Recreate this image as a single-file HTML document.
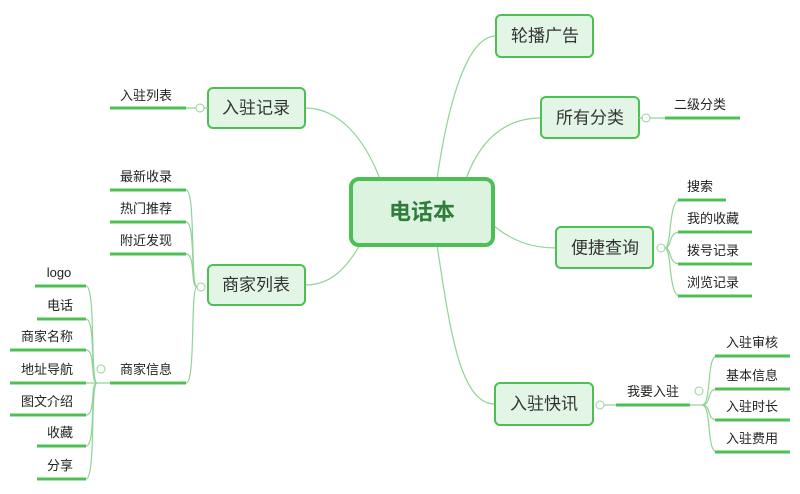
<!DOCTYPE html>
<html><head><meta charset="utf-8"><style>
body{margin:0;background:#fff;}
svg{display:block;font-family:"Liberation Sans","Noto Sans CJK SC",sans-serif;}
.box{fill:#e3f6e6;stroke:#4cc055;stroke-width:2;}
.t{font-size:17px;fill:#333;text-anchor:middle;dominant-baseline:central;}
.s{font-size:13px;fill:#222;text-anchor:middle;}
.u{stroke:#4cc055;stroke-width:3;fill:none;}
.c{stroke:#8fd497;stroke-width:1.2;fill:none;}
.k{fill:#fff;stroke:#9bcf9f;stroke-width:1;}
</style></head><body>
<svg width="800" height="494" viewBox="0 0 800 494">
<!-- main curves -->
<path class="c" d="M437 179 C450 90 470 36 496 36"/>
<path class="c" d="M466 179 C480 140 505 118 541 118"/>
<path class="c" d="M492 224 C510 240 530 248 556 248"/>
<path class="c" d="M437 245 C450 330 460 404 495 404"/>
<path class="c" d="M380 179 C365 140 340 108 305 108"/>
<path class="c" d="M360 245 C345 270 330 285 305 285"/>
<!-- central -->
<rect x="351" y="179" width="142" height="66" rx="8" fill="#dcf4df" stroke="#4cc055" stroke-width="4"/>
<text x="422" y="212" class="t" style="font-size:22px;font-weight:bold;fill:#2e7d3a">电话本</text>
<!-- right nodes -->
<rect class="box" x="496" y="15" width="97" height="42" rx="5"/><text class="t" x="545" y="36">轮播广告</text>
<rect class="box" x="541" y="97" width="98" height="41" rx="5"/><text class="t" x="590" y="118">所有分类</text>
<line class="c" x1="639" y1="118" x2="665" y2="118"/>
<circle class="k" cx="646" cy="118" r="4"/>
<line class="u" x1="665" y1="118" x2="740" y2="118"/><text class="s" x="700" y="109">二级分类</text>
<rect class="box" x="556" y="227" width="97" height="41" rx="5"/><text class="t" x="605" y="248">便捷查询</text>
<circle class="k" cx="661" cy="248" r="4"/>
<path class="c" d="M665 248 C672 248 668 200 680 200"/>
<path class="c" d="M665 248 C672 248 668 232 680 232"/>
<path class="c" d="M665 248 C672 248 668 264 680 264"/>
<path class="c" d="M665 248 C672 248 668 296 680 296"/>
<line class="u" x1="678" y1="200" x2="726" y2="200"/><text class="s" x="700" y="191">搜索</text>
<line class="u" x1="678" y1="232" x2="752" y2="232"/><text class="s" x="713" y="223">我的收藏</text>
<line class="u" x1="678" y1="264" x2="752" y2="264"/><text class="s" x="713" y="255">拨号记录</text>
<line class="u" x1="678" y1="296" x2="752" y2="296"/><text class="s" x="713" y="287">浏览记录</text>
<rect class="box" x="495" y="383" width="98" height="42" rx="5"/><text class="t" x="544" y="404">入驻快讯</text>
<circle class="k" cx="600" cy="405" r="4"/>
<line class="c" x1="604" y1="405" x2="616" y2="405"/>
<line class="u" x1="616" y1="405" x2="690" y2="405"/><text class="s" x="653" y="396">我要入驻</text>
<line class="c" x1="690" y1="405" x2="702" y2="405"/>
<circle class="k" cx="699" cy="391" r="4"/>
<path class="c" d="M702 405 C712 405 706 356 717 356"/>
<path class="c" d="M702 405 C712 405 706 389 717 389"/>
<path class="c" d="M702 405 C712 405 706 420 717 420"/>
<path class="c" d="M702 405 C712 405 706 452 717 452"/>
<line class="u" x1="715" y1="356" x2="790" y2="356"/><text class="s" x="752" y="347">入驻审核</text>
<line class="u" x1="715" y1="389" x2="790" y2="389"/><text class="s" x="752" y="380">基本信息</text>
<line class="u" x1="715" y1="420" x2="790" y2="420"/><text class="s" x="752" y="411">入驻时长</text>
<line class="u" x1="715" y1="452" x2="790" y2="452"/><text class="s" x="752" y="443">入驻费用</text>
<!-- left nodes -->
<rect class="box" x="208" y="88" width="97" height="40" rx="5"/><text class="t" x="256" y="108">入驻记录</text>
<line class="c" x1="186" y1="108" x2="208" y2="108"/>
<circle class="k" cx="200" cy="108" r="4"/>
<line class="u" x1="110" y1="108" x2="186" y2="108"/><text class="s" x="146" y="100">入驻列表</text>
<rect class="box" x="208" y="265" width="97" height="40" rx="5"/><text class="t" x="256" y="285">商家列表</text>
<circle class="k" cx="201" cy="287" r="4"/>
<path class="c" d="M197 287 C190 287 196 190 186 190"/>
<path class="c" d="M197 287 C190 287 196 222 186 222"/>
<path class="c" d="M197 287 C190 287 196 254 186 254"/>
<path class="c" d="M197 287 C190 287 196 383 186 383"/>
<line class="u" x1="110" y1="190" x2="186" y2="190"/><text class="s" x="146" y="181">最新收录</text>
<line class="u" x1="110" y1="222" x2="186" y2="222"/><text class="s" x="146" y="213">热门推荐</text>
<line class="u" x1="110" y1="254" x2="186" y2="254"/><text class="s" x="146" y="245">附近发现</text>
<line class="u" x1="110" y1="383" x2="186" y2="383"/><text class="s" x="146" y="374">商家信息</text>
<line class="c" x1="86" y1="383" x2="110" y2="383"/>
<circle class="k" cx="101" cy="369" r="4"/>
<path class="c" d="M97 383 C90 383 96 286 86 286"/>
<path class="c" d="M97 383 C90 383 96 319 86 319"/>
<path class="c" d="M97 383 C90 383 96 350 86 350"/>
<path class="c" d="M97 383 C90 383 96 415 86 415"/>
<path class="c" d="M97 383 C90 383 96 446 86 446"/>
<path class="c" d="M97 383 C90 383 96 479 86 479"/>
<line class="u" x1="35" y1="286" x2="86" y2="286"/><text class="s" x="59" y="277">logo</text>
<line class="u" x1="37" y1="319" x2="86" y2="319"/><text class="s" x="60" y="310">电话</text>
<line class="u" x1="10" y1="350" x2="86" y2="350"/><text class="s" x="47" y="341">商家名称</text>
<line class="u" x1="10" y1="383" x2="86" y2="383"/><text class="s" x="47" y="374">地址导航</text>
<line class="u" x1="10" y1="415" x2="86" y2="415"/><text class="s" x="47" y="406">图文介绍</text>
<line class="u" x1="37" y1="446" x2="86" y2="446"/><text class="s" x="60" y="437">收藏</text>
<line class="u" x1="37" y1="479" x2="86" y2="479"/><text class="s" x="60" y="470">分享</text>
</svg>
</body></html>
